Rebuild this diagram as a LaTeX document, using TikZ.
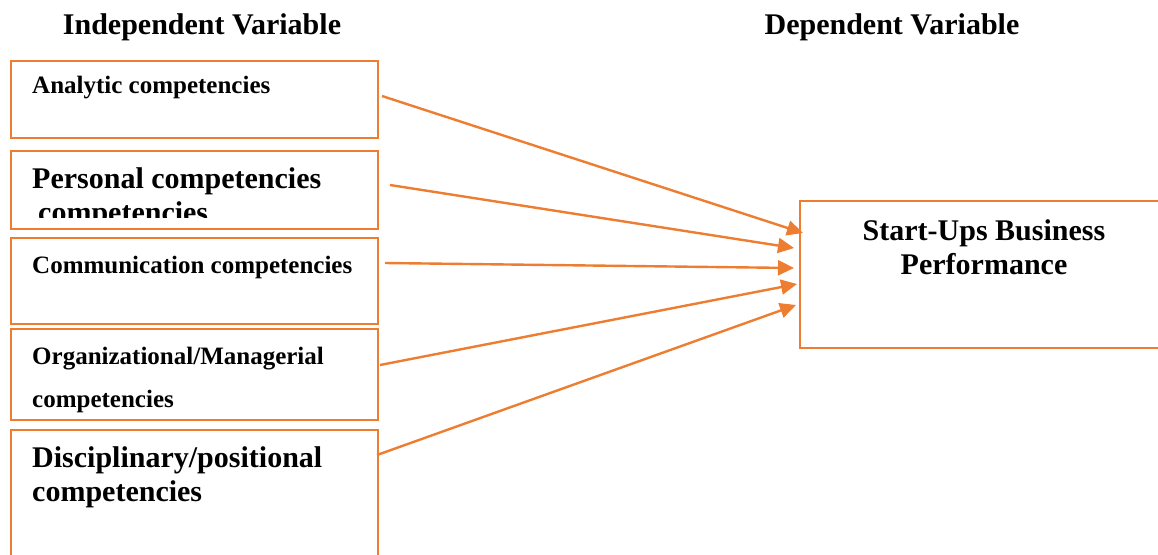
\documentclass[tikz,border=0pt]{standalone}
\usepackage{fontspec}
\setmainfont{Liberation Serif}
\usetikzlibrary{arrows.meta}
\definecolor{orng}{HTML}{ED7D31}
\begin{document}
\begin{tikzpicture}[x=1pt,y=-1pt,
  box/.style={draw=orng,line width=2pt,inner sep=0pt,outer sep=0pt,anchor=north west,fill=none},
  small/.style={font=\fontsize{25}{30}\selectfont\bfseries,inner sep=0pt,anchor=base west},
  big/.style={font=\fontsize{30}{34}\selectfont\bfseries,inner sep=0pt,anchor=base west},
  conn/.style={draw=orng,line width=2.4pt,-{Triangle[length=16pt,width=15pt]}}]
\useasboundingbox (0,0) rectangle (1158,554);
% headers
\node[big,anchor=base] (hind) at (202,34) {Independent Variable};
\node[big,anchor=base] (hdep) at (892,34) {Dependent Variable};
% boxes
\node[box,minimum width=367pt,minimum height=77pt] (b1) at (11,61) {};
\node[box,minimum width=367pt,minimum height=78pt] (b2) at (11,151) {};
\node[box,minimum width=367pt,minimum height=86pt] (b3) at (11,238) {};
\node[box,minimum width=367pt,minimum height=91pt] (b4) at (11,329) {};
\node[box,minimum width=367pt,minimum height=140pt] (b5) at (11,430) {};
\node[box,minimum width=380pt,minimum height=147pt] (out) at (800,201) {};
% texts
\node[small] (t1) at (32,93) {Analytic competencies};
\node[big] (t2) at (32,188) {Personal competencies};
\begin{scope}
\clip (12,152) rectangle (377,217);
\node[big] (t2b) at (38,222) {competencies};
\end{scope}
\node[small] (t3) at (32,273) {Communication competencies};
\node[small] (t4a) at (32,364) {Organizational/Managerial};
\node[small] (t4b) at (32,407) {competencies};
\node[big] (t5a) at (32,467) {Disciplinary/positional};
\node[big] (t5b) at (32,501) {competencies};
\node[big,anchor=base] (o1) at (984,240) {Start-Ups Business};
\node[big,anchor=base] (o2) at (984,274) {Performance};
% connector ends
\coordinate (s1) at (382,96);
\coordinate (s2) at (390,185);
\coordinate (s3) at (385,263);
\coordinate (s4) at (380,365);
\coordinate (s5) at (377,455);
\coordinate (e1) at (803,233);
\coordinate (e2) at (794,248);
\coordinate (e3) at (794,268);
\coordinate (e4) at (797,284);
\coordinate (e5) at (796,305);
\draw[conn] (s1) -- (e1);
\draw[conn] (s2) -- (e2);
\draw[conn] (s3) -- (e3);
\draw[conn] (s4) -- (e4);
\draw[conn] (s5) -- (e5);
\end{tikzpicture}
\end{document}
